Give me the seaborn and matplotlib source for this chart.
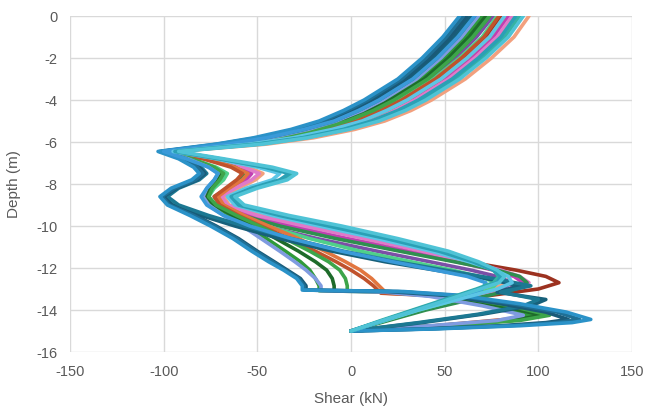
import matplotlib
matplotlib.use("Agg")
import matplotlib.pyplot as plt
import pandas as pd
import seaborn as sns

# Depth stations (m); every group shares the upper stations down to the kink at -6.45 m
UPPER = [0, -1, -2, -3, -4, -4.5, -5, -5.4, -5.8, -6.1, -6.45]
DEPTH_R = UPPER + [-6.8, -7.2, -7.5, -7.8, -8.2, -8.6, -9.0, -9.5, -10.0, -10.6, -11.2, -11.7,
                   -12.1, -12.4, -12.7, -13.0, -13.5, -14.0, -14.5, -15.0]
DEPTH_A = UPPER + [-6.8, -7.2, -7.5, -7.8, -8.2, -8.6, -9.0, -9.5, -10.0, -10.6, -11.2, -11.7,
                   -12.1, -12.5, -12.85, -13.05, -13.12, -13.3, -13.7, -14.1, -14.45, -14.6,
                   -14.75, -14.9, -15.0]
DEPTH_AP = UPPER + [-6.8, -7.2, -7.5, -7.8, -8.2, -8.6, -9.0, -9.5, -10.0, -10.6, -11.2, -11.7,
                    -12.1, -12.5, -12.85, -13.15, -13.5, -13.8, -14.2, -14.6, -15.0]
DEPTH_G = UPPER + [-6.8, -7.2, -7.5, -7.8, -8.2, -8.6, -9.0, -9.5, -10.0, -10.6, -11.2, -11.7,
                   -12.1, -12.5, -12.85, -13.08, -13.15, -13.35, -13.8, -14.25, -14.5, -14.75,
                   -15.0]
DEPTH_O = UPPER + [-6.8, -7.2, -7.5, -7.8, -8.2, -8.6, -9.0, -9.5, -10.0, -10.6, -11.2, -11.7,
                   -12.1, -12.5, -12.85, -13.2, -13.3, -13.6, -14.0, -14.4, -14.75, -15.0]

# Shear (kN) per load case
R_CYAN = [92, 84, 72, 58, 40, 29, 15, -1, -23, -47, -92,
          -68, -42, -29, -34, -50, -62, -57, -33, -5, 25, 52, 68, 78, 82, 79, 69, 52, 35, 17, 0]
R_TEAL = [88, 80, 68, 54, 36, 25, 11, -4, -26, -50, -94,
          -70, -46, -33, -38, -53, -64, -60, -38, -12, 19, 47, 65, 76, 80, 78, 68, 51, 34, 17, 0]
R_SEAFOAM = [90, 82, 70, 56, 38, 27, 13, -3, -24, -49, -93,
             -70, -45, -31, -36, -52, -63, -59, -36, -9, 21, 49, 66, 76, 79, 76, 67, 50, 33, 16, 0]
R_SKY = [82, 74, 62, 48, 30, 19, 6, -10, -31, -54, -95,
         -72, -50, -38, -42, -56, -66, -62, -42, -17, 14, 43, 63, 77, 84, 86, 78, 57, 36, 18, 0]
R_SALMON = [95, 87, 75, 61, 43, 32, 18, 2, -20, -45, -93,
            -74, -55, -47, -51, -60, -68, -65, -46, -20, 12, 42, 63, 77, 84, 85, 74, 55, 35, 18, 0]
R_PINK = [86, 78, 66, 52, 34, 23, 9, -6, -28, -52, -94,
          -75, -57, -49, -53, -62, -69, -66, -50, -25, 7, 38, 62, 80, 90, 95, 86, 62, 38, 19, 0]
R_MAGENTA = [84, 76, 64, 50, 32, 21, 8, -8, -30, -53, -95,
             -76, -60, -53, -56, -64, -71, -68, -54, -32, -2, 30, 56, 76, 87, 92, 84, 60, 37, 18, 0]
R_BROWN = [80, 72, 60, 46, 28, 17, 4, -12, -33, -56, -96,
           -77, -61, -54, -57, -65, -72, -69, -56, -35, -3, 32, 62, 88, 104, 111, 100, 58, 37, 18, 0]
R_OLIVE = [74, 65, 54, 41, 23, 12, -2, -17, -38, -60, -97,
           -78, -62, -56, -59, -66, -73, -70, -58, -38, -8, 26, 55, 78, 90, 94, 88, 64, 40, 20, 0]
R_PURPLE = [76, 67, 56, 42, 24, 13, 0, -15, -36, -59, -98,
            -86, -73, -68, -70, -75, -78, -75, -64, -46, -18, 14, 42, 64, 78, 86, 80, 58, 36, 18, 0]
R_LIGHTGREEN = [78, 70, 58, 44, 26, 15, 2, -14, -35, -57, -97,
                -85, -72, -66, -68, -73, -76, -73, -62, -45, -22, 5, 32, 54, 68, 78, 75, 57, 36, 18, 0]
R_MIDBLUE = [66, 57, 46, 33, 15, 4, -9, -25, -45, -66, -100,
             -88, -76, -71, -73, -77, -80, -77, -68, -54, -32, -5, 22, 45, 62, 72, 70, 55, 35, 17, 0]

A_BLUE = [58, 49, 38, 25, 7, -4, -17, -32, -52, -72, -103,
          -92, -84, -81, -85, -96, -102, -98, -86, -75, -63, -53, -44, -36, -29, -26, -26,
          28, 58, 90, 115, 128, 118, 90, 45, 0]
A_STEEL = [60, 51, 40, 27, 9, -2, -15, -30, -50, -71, -102,
           -90, -82, -79, -83, -94, -101, -97, -84, -73, -61, -51, -42, -35, -28, -25, -25,
           25, 55, 86, 110, 122, 110, 84, 42, 0]
A_NAVY = [62, 53, 42, 29, 11, 0, -13, -28, -49, -69, -101,
          -89, -81, -78, -82, -93, -100, -96, -83, -72, -60, -50, -41, -34, -27, -24, -24,
          20, 50, 80, 104, 116, 104, 80, 40, 0]

AP_DARKTEAL = [64, 55, 44, 31, 13, 2, -11, -26, -47, -68, -101,
               -90, -82, -79, -83, -94, -100, -95, -80, -62, -38, -10, 18, 45, 72, 90, 78,
               104, 96, 70, 38, 0]
AP_DEEPTEAL = [66, 57, 46, 33, 15, 4, -9, -25, -45, -66, -100,
               -88, -80, -77, -81, -92, -98, -92, -76, -57, -32, -4, 24, 50, 76, 96, 80,
               100, 92, 68, 36, 0]

G_GREEN = [70, 61, 50, 37, 19, 8, -6, -21, -42, -63, -99,
           -87, -75, -70, -72, -76, -78, -75, -66, -56, -45, -35, -27, -22, -19, -17, -17,
           20, 45, 75, 97, 82, 45, 0]
G_DARKGREEN = [72, 63, 52, 39, 21, 10, -4, -19, -40, -62, -98,
               -86, -74, -69, -71, -75, -77, -73, -63, -52, -40, -28, -19, -13, -10, -9, -9,
               25, 50, 80, 102, 86, 48, 0]
G_FOREST = [74, 65, 54, 41, 23, 12, -2, -17, -38, -60, -97,
            -85, -73, -68, -70, -74, -76, -72, -61, -49, -35, -22, -12, -6, -3, -2, -2,
            30, 55, 85, 106, 90, 50, 0]
G_LAVENDER = [68, 59, 48, 35, 17, 6, -8, -23, -43, -65, -99,
              -87, -76, -71, -73, -77, -79, -76, -68, -58, -48, -38, -30, -24, -19, -16, -16,
              18, 42, 70, 92, 78, 42, 0]

O_ORANGE = [82, 74, 62, 48, 30, 19, 6, -10, -31, -54, -96,
            -78, -62, -55, -58, -65, -71, -68, -57, -44, -28, -14, -3, 5, 11, 15, 19,
            45, 75, 95, 92, 50, 0]
O_RUST = [79, 71, 59, 45, 27, 16, 3, -13, -34, -57, -97,
          -79, -64, -58, -61, -67, -73, -70, -60, -48, -33, -19, -8, 0, 7, 12, 16,
          40, 70, 90, 88, 45, 0]

X_TICKS = [-150, -100, -50, 0, 50, 100, 150]
Y_TICKS = [0, -2, -4, -6, -8, -10, -12, -14, -16]

# (name, depths, shears, colour) in drawing order
cases = [
    ("R_BROWN", DEPTH_R, R_BROWN, "#9c3220"),
    ("R_SALMON", DEPTH_R, R_SALMON, "#f2a07e"),
    ("R_MAGENTA", DEPTH_R, R_MAGENTA, "#c03fb2"),
    ("R_PURPLE", DEPTH_R, R_PURPLE, "#7b4fa6"),
    ("R_PINK", DEPTH_R, R_PINK, "#e07ac8"),
    ("R_OLIVE", DEPTH_R, R_OLIVE, "#2f8f4f"),
    ("R_LIGHTGREEN", DEPTH_R, R_LIGHTGREEN, "#4fd08a"),
    ("O_ORANGE", DEPTH_O, O_ORANGE, "#e2763f"),
    ("O_RUST", DEPTH_O, O_RUST, "#c0522c"),
    ("G_GREEN", DEPTH_G, G_GREEN, "#2f9a3a"),
    ("G_DARKGREEN", DEPTH_G, G_DARKGREEN, "#1e6b2a"),
    ("G_FOREST", DEPTH_G, G_FOREST, "#3da54a"),
    ("G_LAVENDER", DEPTH_G, G_LAVENDER, "#7f9be0"),
    ("AP_DARKTEAL", DEPTH_AP, AP_DARKTEAL, "#17607a"),
    ("AP_DEEPTEAL", DEPTH_AP, AP_DEEPTEAL, "#1c7892"),
    ("A_NAVY", DEPTH_A, A_NAVY, "#1a5a78"),
    ("A_STEEL", DEPTH_A, A_STEEL, "#1f6f95"),
    ("A_BLUE", DEPTH_A, A_BLUE, "#2b92c8"),
    ("R_MIDBLUE", DEPTH_R, R_MIDBLUE, "#3a9ad9"),
    ("R_SKY", DEPTH_R, R_SKY, "#5cc6e6"),
    ("R_SEAFOAM", DEPTH_R, R_SEAFOAM, "#36b3a4"),
    ("R_TEAL", DEPTH_R, R_TEAL, "#2aa0b5"),
    ("R_CYAN", DEPTH_R, R_CYAN, "#4fc3d6"),
]

rows = []
for name, depths, shears, _ in cases:
    for i, (d, v) in enumerate(zip(depths, shears, strict=True)):
        rows.append({"case": name, "step": i, "depth": d, "shear": v})
df = pd.DataFrame(rows)
palette = {name: col for name, _, _, col in cases}
order = [name for name, _, _, _ in cases]

sns.set_theme(style="white")
plt.rcParams["font.family"] = ["Liberation Sans Narrow", "Liberation Sans", "DejaVu Sans"]
plt.rcParams["axes.unicode_minus"] = False

fig = plt.figure(figsize=(6.49, 4.12), dpi=100)
ax = fig.add_axes([70 / 649, 1 - 352 / 412, 562 / 649, 336 / 412])

sns.lineplot(data=df, x="shear", y="depth", hue="case", hue_order=order, palette=palette,
             sort=False, estimator=None, legend=False, linewidth=2.6, ax=ax)
for line in ax.lines:
    line.set_solid_joinstyle("round")
    line.set_solid_capstyle("round")

ax.set_xlim(-150, 150)
ax.set_ylim(-16, 0)
ax.set_xticks(X_TICKS)
ax.set_yticks(Y_TICKS)
ax.grid(True, color="#d9d9d9", linewidth=1.0)
ax.set_axisbelow(True)
for s in ax.spines.values():
    s.set_visible(False)
ax.tick_params(axis="both", length=0, labelsize=10.5, labelcolor="#595959")
ax.tick_params(axis="x", pad=9)
ax.tick_params(axis="y", pad=9)
ax.set_xlabel("Shear (kN)", fontsize=11, color="#595959", labelpad=10)
ax.set_ylabel("Depth (m)", fontsize=11, color="#595959", labelpad=11)

fig.savefig("out.png", dpi=100)
